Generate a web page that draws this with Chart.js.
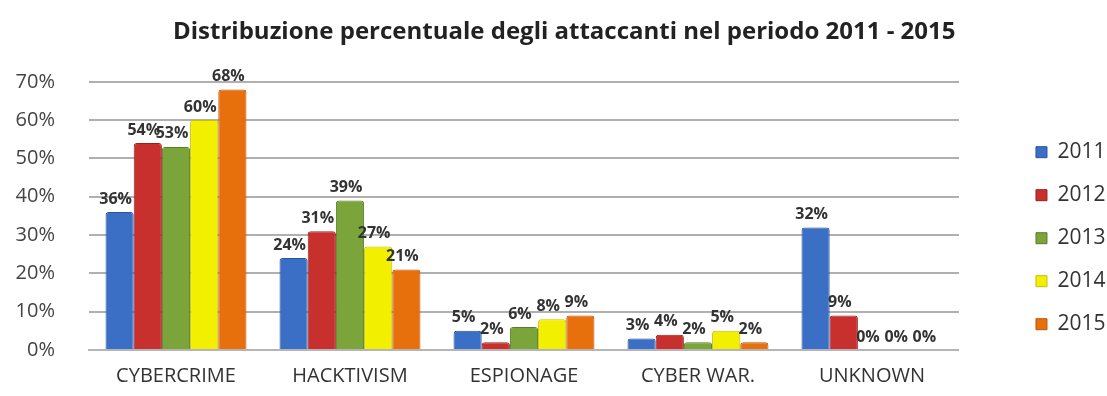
<!DOCTYPE html>
<html>
<head>
<meta charset="utf-8">
<script src="https://cdn.jsdelivr.net/npm/chart.js@4"></script>
<style>
  html, body { margin: 0; padding: 0; background: #fff; }
  #wrap { width: 1107px; height: 396px; }
</style>
</head>
<body>
<div id="wrap"><canvas id="attackersChart"></canvas></div>
<script>
const categories = ["CYBERCRIME", "HACKTIVISM", "ESPIONAGE", "CYBER WAR.", "UNKNOWN"];
const years = ["2011", "2012", "2013", "2014", "2015"];
const values2011 = [36, 24, 5, 3, 32];
const values2012 = [54, 31, 2, 4, 9];
const values2013 = [53, 39, 6, 2, 0];
const values2014 = [60, 27, 8, 5, 0];
const values2015 = [68, 21, 9, 2, 0];
const yTicks = [0, 10, 20, 30, 40, 50, 60, 70];

const seriesValues = [values2011, values2012, values2013, values2014, values2015];
const seriesColors = ["#3b6fc6", "#c8302e", "#7ba43a", "#f2f000", "#e8700c"];
const seriesBorders = ["#2a5299", "#962220", "#5a7d28", "#c2c000", "#b9560a"];

// etichette percentuali sopra le barre
const valueLabels = {
    id: "valueLabels",
    afterDatasetsDraw(chart) {
        const ctx = chart.ctx;
        ctx.save();
        ctx.font = "bold 16px 'Open Sans', sans-serif";
        ctx.fillStyle = "#333";
        ctx.textAlign = "center";
        ctx.textBaseline = "bottom";
        chart.data.datasets.forEach((ds, i) => {
            const meta = chart.getDatasetMeta(i);
            meta.data.forEach((bar, j) => {
                ctx.fillText(ds.data[j] + "%", bar.x - 4, bar.y - 5);
            });
        });
        ctx.restore();
    }
};

const chart = new Chart(document.getElementById("attackersChart").getContext("2d"), {
    type: "bar",
    data: {
        labels: categories,
        datasets: years.map((year, i) => ({
            label: year,
            data: seriesValues[i],
            backgroundColor: seriesColors[i],
            borderColor: seriesBorders[i],
            borderWidth: 1,
            borderRadius: 3,
            borderSkipped: "bottom"
        }))
    },
    options: {
        responsive: true,
        maintainAspectRatio: false,
        animation: false,
        layout: {
            padding: { left: 13, right: -8.5, top: 4, bottom: 2 }
        },
        datasets: {
            bar: { categoryPercentage: 0.81, barPercentage: 1.0 }
        },
        scales: {
            x: {
                afterFit: scale => { scale.height = 39; },
                grid: { display: false, drawTicks: false },
                border: { color: "#b5b5b5", width: 2 },
                ticks: {
                    color: "#333",
                    font: { family: "'Open Sans', sans-serif", size: 20 },
                    padding: 14
                }
            },
            y: {
                min: 0,
                max: 70,
                afterFit: scale => { scale.width = 76; },
                afterBuildTicks: axis => { axis.ticks = yTicks.map(v => ({ value: v })); },
                grid: { color: "#b0b0b0", lineWidth: 2, drawTicks: false },
                border: { display: false },
                ticks: {
                    color: "#444",
                    padding: 34,
                    font: { family: "'Open Sans', sans-serif", size: 20 },
                    callback: value => value + "%"
                }
            },
            // spazio vuoto tra area del grafico e legenda
            gap: {
                type: "linear",
                position: "right",
                grid: { display: false, drawTicks: false },
                border: { display: false },
                ticks: { display: false },
                afterFit: scale => { scale.width = 55; }
            }
        },
        plugins: {
            title: {
                display: true,
                text: "Distribuzione percentuale degli attaccanti nel periodo 2011 - 2015",
                color: "#222",
                font: { family: "'Open Sans', sans-serif", size: 24, weight: "bold" },
                padding: { top: 14, bottom: 35 }
            },
            legend: {
                position: "right",
                title: {
                    display: true,
                    text: " ",
                    font: { size: 12 },
                    padding: { top: 64, bottom: 0 }
                },
                labels: {
                    color: "#333",
                    boxWidth: 11,
                    boxHeight: 11,
                    padding: 22,
                    font: { family: "'Open Sans', sans-serif", size: 21 }
                }
            },
            tooltip: { enabled: false }
        }
    },
    plugins: [valueLabels]
});
</script>
</body>
</html>
